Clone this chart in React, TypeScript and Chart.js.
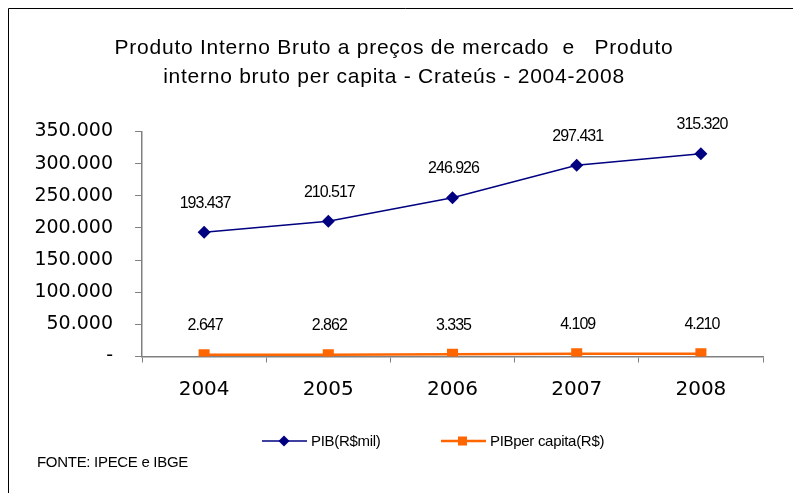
import React, { useEffect, useRef } from "react";
import { Chart, registerables } from "chart.js";

Chart.register(...registerables);

const years = ["2004", "2005", "2006", "2007", "2008"];
const pib = [193437, 210517, 246926, 297431, 315320];
const pibPerCapita = [2647, 2862, 3335, 4109, 4210];
const titleLines = [
  "Produto Interno Bruto a preços de mercado  e   Produto",
  "interno bruto per capita - Crateús - 2004-2008",
];
const seriesNames = ["PIB(R$mil)", "PIBper capita(R$)"];
const sourceText = "FONTE: IPECE e IBGE";

const NAVY = "#000080";
const ORANGE = "#FF6600";
const AXIS = "#808080";

function fmt(v: number): string {
  if (v === 0) return "-";
  return Math.round(v)
    .toString()
    .replace(/\B(?=(\d{3})+(?!\d))/g, ".");
}

const decorPlugin = {
  id: "decor",
  afterDraw(chart: any) {
    const ctx = chart.ctx as CanvasRenderingContext2D;
    ctx.save();
    // frame
    ctx.strokeStyle = "#000";
    ctx.lineWidth = 1;
    ctx.beginPath();
    ctx.moveTo(0.5, chart.height + 5);
    ctx.lineTo(0.5, 0.5);
    ctx.lineTo(chart.width + 5, 0.5);
    ctx.stroke();

    // title
    ctx.fillStyle = "#000";
    ctx.font = "21px 'Liberation Sans', Arial, sans-serif";
    (ctx as any).letterSpacing = "0.75px";
    ctx.textAlign = "center";
    ctx.textBaseline = "middle";
    ctx.fillText(titleLines[0], 386, 40);
    ctx.fillText(titleLines[1], 386, 69);

    // data labels
    ctx.font = "16px 'Liberation Sans', Arial, sans-serif";
    (ctx as any).letterSpacing = "-1px";
    chart.data.datasets.forEach((ds: any, i: number) => {
      const meta = chart.getDatasetMeta(i);
      meta.data.forEach((pt: any, j: number) => {
        ctx.fillText(fmt(ds.data[j]), pt.x + 1, pt.y - 29);
      });
    });

    // legend
    const ly = 433;
    ctx.textAlign = "left";
    ctx.font = "15px 'Liberation Sans', Arial, sans-serif";
    (ctx as any).letterSpacing = "-0.3px";
    // series 1
    ctx.strokeStyle = NAVY;
    ctx.lineWidth = 1.5;
    ctx.beginPath();
    ctx.moveTo(254, ly);
    ctx.lineTo(299, ly);
    ctx.stroke();
    ctx.fillStyle = NAVY;
    ctx.beginPath();
    ctx.moveTo(276, ly - 5.5);
    ctx.lineTo(281.5, ly);
    ctx.lineTo(276, ly + 5.5);
    ctx.lineTo(270.5, ly);
    ctx.closePath();
    ctx.fill();
    ctx.fillStyle = "#000";
    ctx.fillText(seriesNames[0], 303, ly + 1);
    // series 2
    ctx.strokeStyle = ORANGE;
    ctx.lineWidth = 2.5;
    ctx.beginPath();
    ctx.moveTo(433, ly);
    ctx.lineTo(478, ly);
    ctx.stroke();
    ctx.fillStyle = ORANGE;
    ctx.fillRect(450, ly - 4.5, 9, 9);
    ctx.fillStyle = "#000";
    ctx.fillText(seriesNames[1], 482, ly + 1);

    // source
    ctx.fillText(sourceText, 29, 455);
    ctx.restore();
  },
};

export default function App() {
  const ref = useRef<HTMLCanvasElement | null>(null);
  useEffect(() => {
    if (!ref.current) return;
    const chart = new Chart(ref.current, {
      type: "line",
      data: {
        labels: years,
        datasets: [
          {
            label: seriesNames[0],
            data: pib,
            borderColor: NAVY,
            backgroundColor: NAVY,
            borderWidth: 1.5,
            pointStyle: "rectRot",
            pointRadius: 6.5,
            pointBorderWidth: 0,
            tension: 0,
          },
          {
            label: seriesNames[1],
            data: pibPerCapita,
            borderColor: ORANGE,
            backgroundColor: ORANGE,
            borderWidth: 2.5,
            pointStyle: "rect",
            pointRadius: 7.8,
            pointBorderWidth: 0,
            tension: 0,
          },
        ],
      },
      options: {
        responsive: false,
        animation: false,
        layout: { padding: { top: 123.5, right: 38, left: 0, bottom: 0 } },
        plugins: {
          legend: { display: false },
          title: { display: false },
          tooltip: { enabled: false },
        },
        scales: {
          x: {
            offset: true,
            afterFit: (s: any) => {
              s.height = 136.5;
            },
            grid: {
              offset: true,
              drawOnChartArea: false,
              tickLength: 6,
              color: AXIS,
            },
            border: { color: AXIS, width: 1.5 },
            ticks: {
              color: "#000",
              padding: 15,
              font: { family: "'DejaVu Sans'", size: 20 },
            },
          },
          y: {
            min: 0,
            max: 350000,
            afterFit: (s: any) => {
              s.width = 134;
            },
            grid: {
              drawOnChartArea: false,
              tickLength: 7,
              color: AXIS,
            },
            border: { color: AXIS, width: 1.5 },
            ticks: {
              stepSize: 50000,
              color: "#000",
              padding: 22,
              font: { family: "'DejaVu Sans'", size: 19 },
              callback: (v: any) => fmt(Number(v)),
            },
          },
        },
      },
      plugins: [decorPlugin],
    });
    return () => chart.destroy();
  }, []);
  return (
    <div style={{ width: 793, height: 485 }}>
      <canvas ref={ref} width={793} height={485} style={{ display: "block" }} />
    </div>
  );
}
